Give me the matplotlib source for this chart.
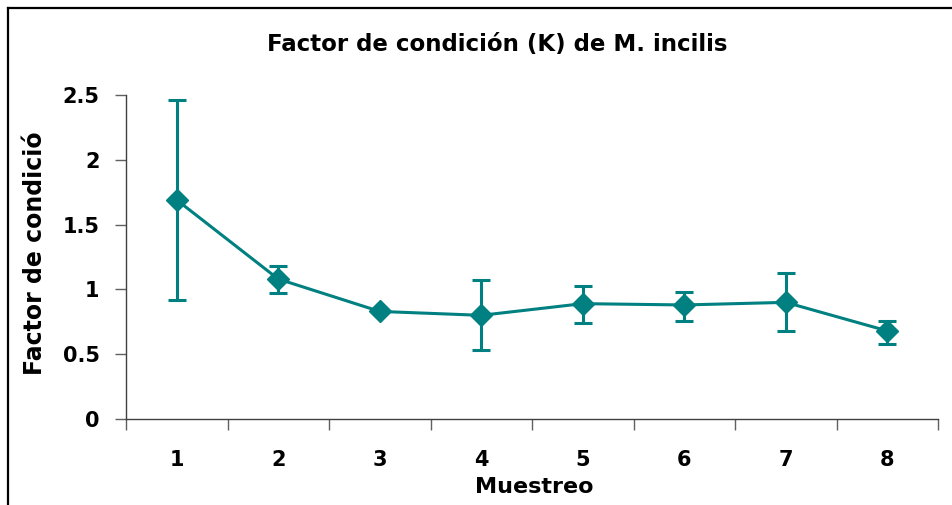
import matplotlib.pyplot as plt
from matplotlib.lines import Line2D
from matplotlib.transforms import Bbox, TransformedBbox
import numpy as np

# data
muestreo = [1, 2, 3, 4, 5, 6, 7, 8]
k_mean = [1.69, 1.08, 0.83, 0.80, 0.89, 0.88, 0.90, 0.68]
k_upper = [2.46, 1.18, 0.83, 1.07, 1.03, 0.98, 1.13, 0.76]
k_lower = [0.92, 0.97, 0.83, 0.53, 0.74, 0.76, 0.68, 0.58]
y_ticks = [0, 0.5, 1, 1.5, 2, 2.5]
y_ticklabels = ['0', '0.5', '1', '1.5', '2', '2.5']

teal = '#008080'

fig = plt.figure(figsize=(9.52, 5.05), dpi=100)
ax = fig.add_axes([126 / 952, 1 - 419 / 505, (938 - 126) / 952, (419 - 95) / 505])

mean = np.array(k_mean)
err = [mean - np.array(k_lower), np.array(k_upper) - mean]
ax.errorbar(muestreo, k_mean, yerr=err, color=teal, lw=2.2, marker='D',
            markersize=11, capsize=6.5, capthick=2.2, elinewidth=2.2, zorder=3)

ax.set_xlim(0.5, 8.5)
ax.set_ylim(0, 2.5)

# Excel-like category axis: ticks between categories, labels centred
ax.set_xticks(np.arange(0.5, 9, 1))
ax.set_xticklabels([])
ax.set_xticks(muestreo, minor=True)
ax.set_xticklabels([str(m) for m in muestreo], minor=True)
ax.tick_params(axis='x', which='major', direction='out', length=8, width=1, color='#606060')
ax.tick_params(axis='x', which='minor', length=0, pad=22, labelsize=15)

ax.set_yticks(y_ticks)
ax.set_yticklabels(y_ticklabels)
ax.tick_params(axis='y', direction='out', length=8, width=1, color='#606060', pad=11, labelsize=15)

for lbl in ax.get_xticklabels(minor=True) + ax.get_yticklabels():
    lbl.set_fontweight('bold')

for side in ['top', 'right']:
    ax.spines[side].set_visible(False)
for side in ['left', 'bottom']:
    ax.spines[side].set_color('#404040')
    ax.spines[side].set_linewidth(1)

fig.text(497 / 952, 1 - 45 / 505, 'Factor de condición (K) de M. incilis',
         ha='center', va='center', fontsize=16.5, fontweight='bold')
fig.text(534 / 952, 1 - 487 / 505, 'Muestreo', ha='center', va='center',
         fontsize=16, fontweight='bold')

# y label is cut off at the top in the original
ylab = fig.text(35 / 952, 1 - 375 / 505, 'Factor de condición', rotation=90,
                ha='center', va='bottom', fontsize=17, fontweight='bold')
clip = TransformedBbox(Bbox([[0, 0], [1, 1 - 133 / 505]]), fig.transFigure)
ylab.set_clip_box(clip)
ylab.set_clip_on(True)

# chart frame (only top and left edges visible in the crop)
x0, y0 = 8 / 952, 1 - 7.5 / 505
fig.lines.append(Line2D([x0, 1.0], [y0, y0], transform=fig.transFigure,
                        color='black', lw=1.6))
fig.lines.append(Line2D([x0, x0], [0.0, y0], transform=fig.transFigure,
                        color='black', lw=1.6))

fig.savefig('out.png', dpi=100)
